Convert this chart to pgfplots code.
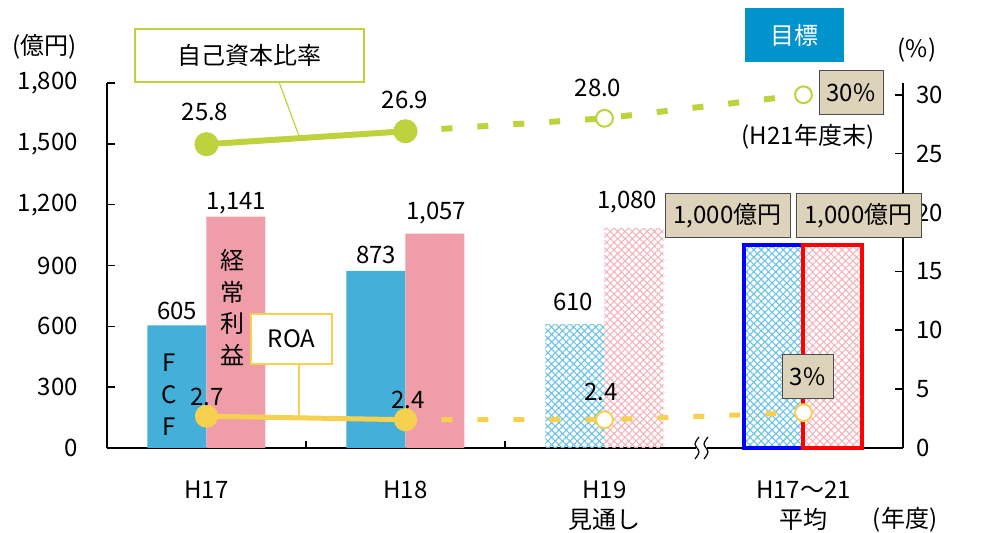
\documentclass[border=0pt]{standalone}
\usepackage{fontspec}
\setmainfont{Noto Sans CJK JP}
\usepackage{pgfplots}
\pgfplotsset{compat=1.18}
\usetikzlibrary{patterns.meta}
\definecolor{barblue}{HTML}{44AFD9}
\definecolor{barpink}{HTML}{F09DAA}
\definecolor{lgreen}{HTML}{BDD23D}
\definecolor{lyellow}{HTML}{F6D14F}
\definecolor{tanbox}{HTML}{DDD2BA}
\definecolor{goalblue}{HTML}{0093CC}
\definecolor{hblue}{HTML}{6CC3E8}
\definecolor{hpink}{HTML}{F5B3BE}
\newcommand\fs{\fontsize{12}{15}\selectfont}
\begin{document}
\begin{tikzpicture}
\begin{axis}[
  at={(0,0)}, anchor=south west,
  scale only axis, width=398pt, height=182.5pt,
  xmin=-0.5, xmax=3.5, ymin=0, ymax=1800,
  axis x line*=bottom, axis y line*=left,
  axis line style={-, line width=0.8pt},
  every tick/.style={black, line width=0.8pt},
  ytick={0,300,...,1800},
  xtick={0,1,2,3},
  xticklabels={H17,H18,{H19\\見通し},{H17～21\\平均}},
  major x tick style={draw=none},
  minor xtick={0.5,1.5},
  minor tick length=3.5pt, major tick length=4pt,
  tick align=inside,
  tick label style={font=\fs},
  xticklabel style={align=center, yshift=-13pt},
  yticklabel style={xshift=-11pt},
  /pgf/number format/.cd, 1000 sep={,}, assume math mode=true,
  /pgfplots/.cd,
  clip=false,
]
\addplot[ybar, bar width=29.5pt, bar shift=-14.75pt, fill=barblue, draw=none] coordinates {(0,605) (1,873)};
\addplot[ybar, bar width=29.5pt, bar shift=14.75pt, fill=barpink, draw=none] coordinates {(0,1141) (1,1057)};
\addplot[ybar, bar width=29.5pt, bar shift=-14.75pt, draw=none, pattern={Hatch[angle=45,distance=2.6pt,line width=0.55pt]}, pattern color=hblue] coordinates {(2,610)};
\addplot[ybar, bar width=29.5pt, bar shift=14.75pt, draw=none, pattern={Hatch[angle=45,distance=2.6pt,line width=0.55pt]}, pattern color=hpink] coordinates {(2,1080)};
\addplot[ybar, bar width=29.5pt, bar shift=-14.75pt, draw=blue, line width=2pt, pattern={Hatch[angle=45,distance=2.6pt,line width=0.55pt]}, pattern color=hblue] coordinates {(3,1000)};
\addplot[ybar, bar width=29.5pt, bar shift=14.75pt, draw=red, line width=2pt, pattern={Hatch[angle=45,distance=2.6pt,line width=0.55pt]}, pattern color=hpink] coordinates {(3,1000)};
\coordinate (brk) at (axis cs:2.49,0);
\end{axis}
\begin{axis}[
  at={(0,0)}, anchor=south west,
  scale only axis, width=398pt, height=182.5pt,
  xmin=-0.5, xmax=3.5, ymin=0, ymax=31,
  axis y line*=right, axis x line=none,
  axis line style={-, line width=0.8pt},
  every tick/.style={black, line width=0.8pt},
  ytick={0,5,...,30},
  major tick length=4pt, tick align=inside,
  tick label style={font=\fs},
  yticklabel style={xshift=3pt},
  /pgf/number format/assume math mode=true,
  clip=false,
]
\addplot[lgreen, line width=3pt, dash pattern=on 5.5pt off 12.5pt] coordinates {(1,26.9) (2,28.0) (3,30)};
\addplot[lgreen, line width=3pt, mark=*, mark size=4.5pt, mark options={solid, fill=lgreen, draw=lgreen}] coordinates {(0,25.8) (1,26.9)};
\addplot[only marks, mark=*, mark size=4.2pt, mark options={fill=white, draw=lgreen, line width=1pt}] coordinates {(2,28.0) (3,30)};
\addplot[lyellow, line width=2.5pt, dash pattern=on 5.5pt off 12.5pt] coordinates {(1,2.4) (2,2.4) (3,3)};
\addplot[lyellow, line width=2.5pt, mark=*, mark size=4.5pt, mark options={solid, fill=lyellow, draw=lyellow}] coordinates {(0,2.7) (1,2.4)};
\addplot[only marks, mark=*, mark size=4.2pt, mark options={fill=white, draw=lyellow, line width=1pt}] coordinates {(2,2.4) (3,3)};
\end{axis}
\begin{scope}[x=0.5pt, y=-0.5pt, shift={(-53.5pt,224pt)}, font=\fs]
% axis break
\fill[white] (696,445) rectangle (707,451);
\draw[line width=0.6pt] plot[smooth] coordinates {(695,459) (699,452) (695,444) (699,437)};
\draw[line width=0.6pt] plot[smooth] coordinates {(704,459) (708,452) (704,444) (708,437)};
% connectors and callouts
\draw[lgreen, line width=0.6pt] (279,82) -- (299,136);
\node[draw=lgreen, line width=1pt, fill=white, minimum width=114.5pt, minimum height=26.5pt, inner sep=0pt] at (249.5,55.5) {自己資本比率};
\draw[lyellow, line width=0.6pt] (299,364) -- (299,416);
\node[draw=lyellow, line width=1pt, fill=white, minimum width=40.5pt, minimum height=25pt, inner sep=0pt] at (291.5,339) {ROA};
\node[fill=goalblue, text=white, minimum width=49.5pt, minimum height=27pt, inner sep=0pt] at (794.5,35) {目標};
\node[draw=black!70, line width=0.5pt, fill=tanbox, minimum width=62.5pt, minimum height=22pt, inner sep=0pt] at (727.5,216) {1,000億円};
\node[draw=black!70, line width=0.5pt, fill=tanbox, minimum width=62.5pt, minimum height=22pt, inner sep=0pt] at (858.5,216) {1,000億円};
\node[draw=black!70, line width=0.5pt, fill=tanbox, minimum width=25.5pt, minimum height=22pt, inner sep=0pt] at (807.5,377) {3\%};
\node[draw=black!70, line width=0.5pt, fill=tanbox, minimum width=32pt, minimum height=22pt, inner sep=0pt] at (851,93) {30\%};
% value labels
\node at (177,311) {605};
\node at (236,203) {1,141};
\node at (376,255) {873};
\node at (436,213) {1,057};
\node at (573,302) {610};
\node at (627,202) {1,080};
\node at (205,112) {25.8};
\node at (405,100) {26.9};
\node at (598,88) {28.0};
\node at (808,137) {(H21年度末)};
\node at (207,397) {2.7};
\node at (408,400) {2.4};
\node at (601,392) {2.4};
% vertical series names
\node at (233,260) {経};
\node at (233,292) {常};
\node at (233,323) {利};
\node at (233,355) {益};
\node at (169,363) {F};
\node at (169,395) {C};
\node at (169,427) {F};
% units
\node at (45,47) {(億円)};
\node at (917,50) {(\%)};
\node at (905,520) {(年度)};
\pgfresetboundingbox
\path[use as bounding box] (0,0) rectangle (987,533);
\end{scope}
\end{tikzpicture}
\end{document}
